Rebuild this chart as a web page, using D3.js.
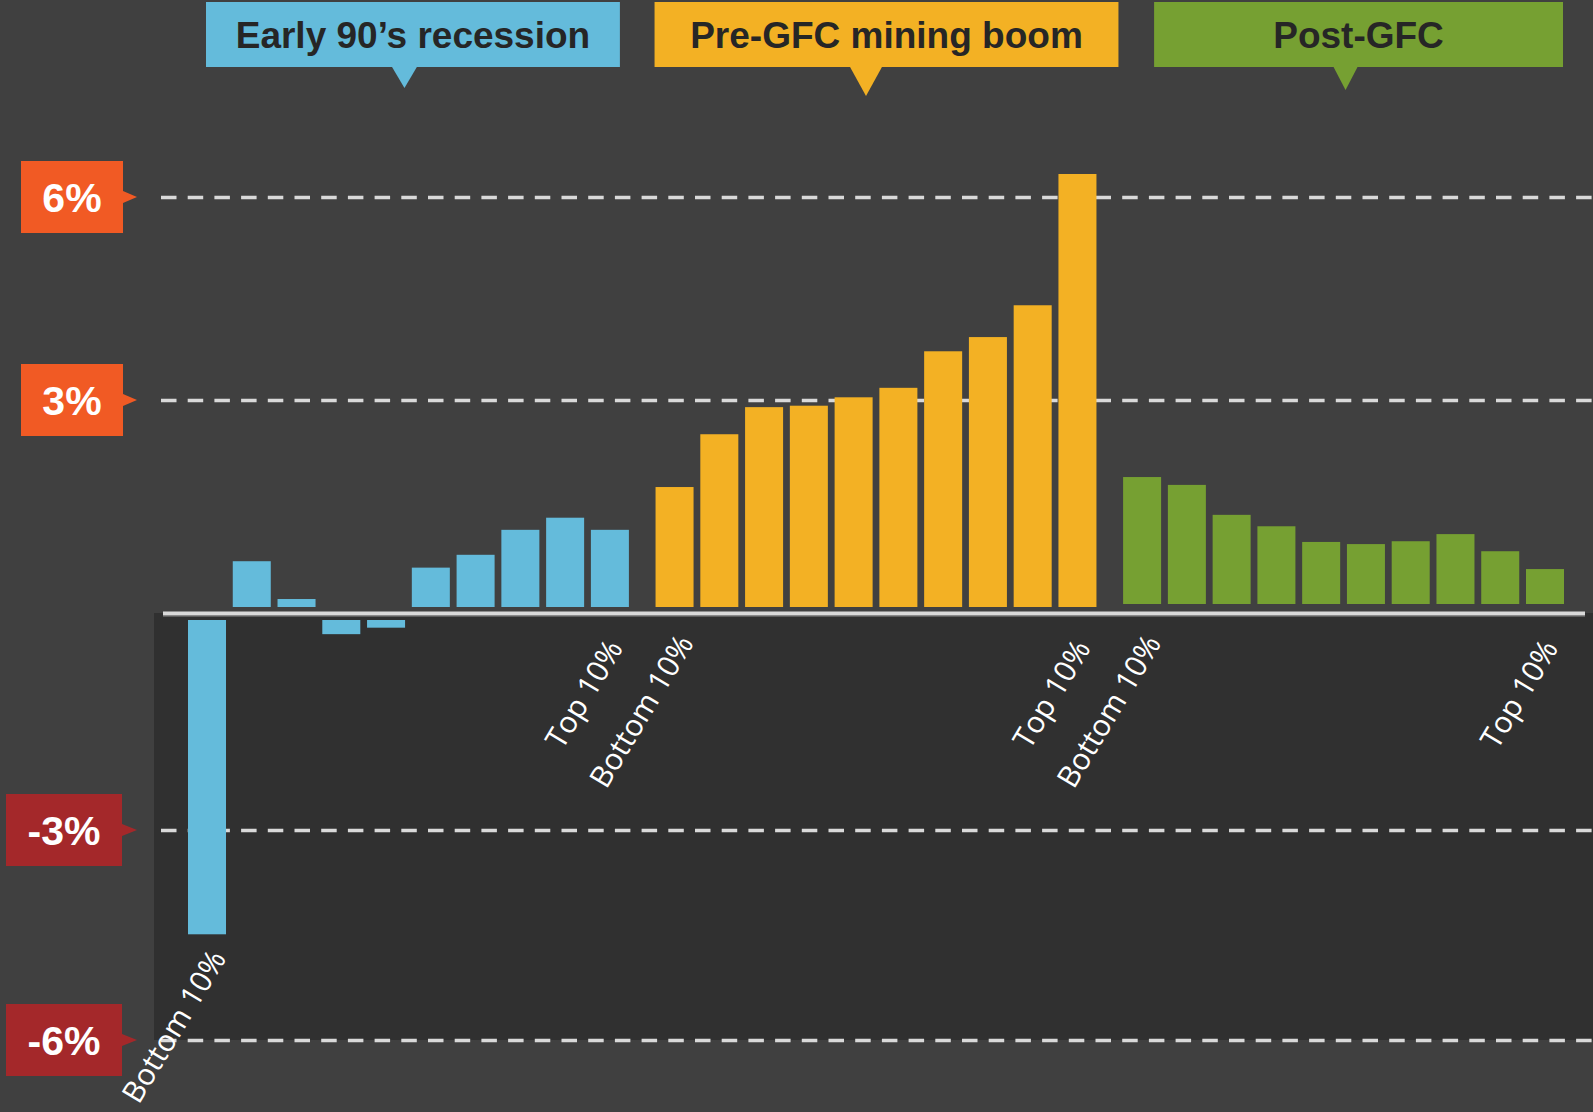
<!DOCTYPE html>
<html>
<head>
<meta charset="utf-8">
<script src="https://cdn.jsdelivr.net/npm/d3@7"></script>
<style>
  body { margin: 0; background: #404040; }
  svg { display: block; }
</style>
</head>
<body>
<div id="grafico"></div>
<script>
// periods, deciles and values (% growth per decile)
var periodos = ["Early 90’s recession", "Pre-GFC mining boom", "Post-GFC"];
var deciles = ["D1", "D2", "D3", "D4", "D5", "D6", "D7", "D8", "D9", "D10"];
var etiquetasDecil = ["Bottom 10%", "", "", "", "", "", "", "", "", "Top 10%"];

var recesion90 = [-4.49, 0.74, 0.21, -0.28, -0.19, 0.65, 0.83, 1.18, 1.35, 1.18];
var boomMinero = [1.78, 2.52, 2.90, 2.92, 3.04, 3.18, 3.72, 3.93, 4.40, 6.34];
var postGFC = [1.92, 1.81, 1.39, 1.23, 1.01, 0.98, 1.02, 1.12, 0.88, 0.63];

var ticksY = [6, 3, -3, -6];
var etiquetasY = ["6%", "3%", "-3%", "-6%"];

function dibujar(zona) {

  var W = 1593, H = 1112;
  var series = [recesion90, boomMinero, postGFC];
  var colores = ["#64bbdb", "#f3b124", "#76a032"];
  // small layout tweaks for each period (gap over the zero line, callout box)
  var estilo = [
    {hueco: 7, l: 18, r: -9, pico: -4, alto: 21, base: 26},
    {hueco: 7, l: -1, r: 22, pico: -10, alto: 29, base: 33},
    {hueco: 10, l: 31, r: -1, pico: 2, alto: 23, base: 25}
  ];

  var svg = d3.select(zona).append("svg")
    .attr("width", W)
    .attr("height", H);

  svg.append("rect").attr("width", W).attr("height", H).attr("fill", "#404040");

  // escalas
  var y = d3.scaleLinear().domain([-6, -3, 0, 3, 6]).range([1040, 830, 614, 400, 197]);
  var x0 = d3.scaleBand().domain(periodos).range([188, 1564]).paddingInner(0.057);
  var x1 = d3.scaleBand().domain(deciles).range([0, x0.bandwidth()]).paddingInner(0.151);

  // zona oscura bajo el cero
  svg.append("rect")
    .attr("x", 154).attr("y", y(0) - 1)
    .attr("width", W - 154).attr("height", y(-6) - y(0) + 1)
    .attr("fill", "#303030");

  // rejilla discontinua
  var yGrid = d3.axisLeft(y).tickValues(ticksY).tickSize(-(W - 161)).tickFormat("");
  var grid = svg.append("g").attr("class", "grid")
    .attr("transform", "translate(161,0)")
    .call(yGrid);
  grid.select(".domain").remove();
  grid.selectAll("line")
    .attr("stroke", "#d9d9d9")
    .attr("stroke-width", 3.5)
    .attr("stroke-dasharray", "15.5 11.2");

  // barras
  periodos.forEach(function(p, i) {
    var datos = deciles.map(function(d, j) { return {decil: d, val: series[i][j], etq: etiquetasDecil[j]}; });
    var g = svg.append("g").attr("transform", "translate(" + x0(p) + ",0)");

    g.selectAll("rect")
      .data(datos)
      .enter()
      .append("rect")
      .attr("x", function(d) { return x1(d.decil); })
      .attr("y", function(d) { return d.val >= 0 ? y(d.val) : y(0) + 6; })
      .attr("width", x1.bandwidth())
      .attr("height", function(d) {
        return d.val >= 0 ? (y(0) - estilo[i].hueco) - y(d.val) : y(d.val) - (y(0) + 6);
      })
      .attr("fill", colores[i]);

    // etiquetas Bottom / Top
    g.selectAll("text.etq")
      .data(datos.filter(function(d) { return d.etq !== ""; }))
      .enter()
      .append("text")
      .attr("class", "etq")
      .attr("transform", function(d) {
        var esTop = d.decil === "D10";
        var cx = x1(d.decil) + x1.bandwidth() / 2 + (esTop ? 14 : 20);
        var cy = d.val >= 0 ? y(0) + (esTop ? 34 : 29) : y(d.val) + 24;
        return "translate(" + cx + "," + cy + ") rotate(-59)";
      })
      .attr("text-anchor", "end")
      .style("font-family", "'Open Sans', sans-serif")
      .style("font-size", "30px")
      .attr("fill", "#ffffff")
      .text(function(d) { return d.etq; });

    // cajas de titulo con pico
    var izq = x0(p) + estilo[i].l,
        der = x0(p) + x0.bandwidth() + estilo[i].r,
        px = x0(p) + x0.bandwidth() / 2 + estilo[i].pico;
    svg.append("rect")
      .attr("x", izq).attr("y", 2)
      .attr("width", der - izq).attr("height", 65)
      .attr("fill", colores[i]);
    svg.append("path")
      .attr("d", "M" + (px - estilo[i].base / 2) + ",66 L" + px + "," + (67 + estilo[i].alto) +
                 " L" + (px + estilo[i].base / 2) + ",66 Z")
      .attr("fill", colores[i]);
    svg.append("text")
      .attr("x", (izq + der) / 2).attr("y", 48)
      .attr("text-anchor", "middle")
      .style("font-family", "'Liberation Sans', Arial, sans-serif")
      .style("font-weight", "bold")
      .style("font-size", "37px")
      .attr("fill", "#262626")
      .text(p);
  });

  // linea del cero
  svg.append("rect")
    .attr("x", 163).attr("y", y(0) - 2.5)
    .attr("width", 1585 - 163).attr("height", 4)
    .attr("fill", "#d9d9d9");
  svg.append("rect")
    .attr("x", 163).attr("y", y(0) + 1.5)
    .attr("width", 1585 - 163).attr("height", 1)
    .attr("fill", "#8c8c8c");

  // etiquetas del eje y en cajas
  var etqY = svg.selectAll("g.etqY")
    .data(ticksY.map(function(t, k) { return {v: t, txt: etiquetasY[k]}; }))
    .enter()
    .append("g")
    .attr("class", "etqY");

  etqY.append("rect")
    .attr("x", function(d) { return d.v > 0 ? 21 : 6; })
    .attr("y", function(d) { return y(d.v) - 36; })
    .attr("width", function(d) { return d.v > 0 ? 102 : 116; })
    .attr("height", 72)
    .attr("fill", function(d) { return d.v > 0 ? "#f15a24" : "#a4282a"; });

  etqY.append("path")
    .attr("d", function(d) {
      var c = y(d.v), b = d.v > 0 ? 123 : 122;
      return "M" + b + "," + (c - 6) + " L137," + c + " L" + b + "," + (c + 6) + " Z";
    })
    .attr("fill", function(d) { return d.v > 0 ? "#f15a24" : "#a4282a"; });

  etqY.append("text")
    .attr("x", function(d) { return d.v > 0 ? 72 : 64; })
    .attr("y", function(d) { return y(d.v) + 15; })
    .attr("text-anchor", "middle")
    .style("font-family", "'Liberation Sans', Arial, sans-serif")
    .style("font-weight", "bold")
    .style("font-size", "41px")
    .attr("fill", "#ffffff")
    .text(function(d) { return d.txt; });
}

dibujar("#grafico");
</script>
</body>
</html>
